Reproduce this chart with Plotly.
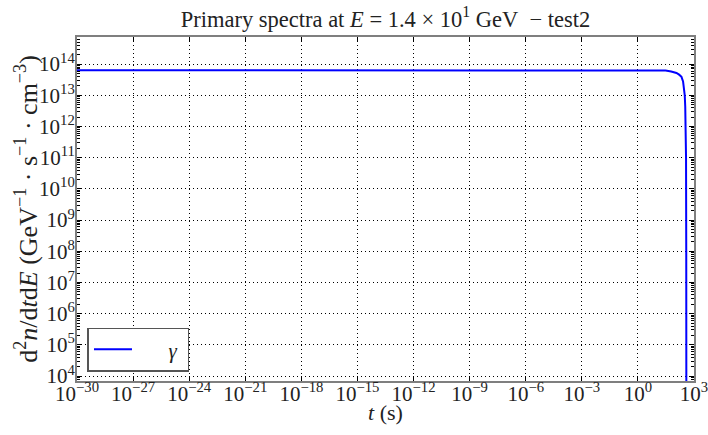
import plotly.graph_objects as go

# Data
t_values = [1e-30, 1e-20, 1e-10, 1e-5, 1e0, 1e1, 3e1, 6e1, 1.15e2, 1.6e2, 2.14e2,
            2.6e2, 2.9e2, 3.2e2, 3.4e2, 3.6e2, 3.75e2, 3.85e2, 3.9e2]
gamma_values = [6.4e13, 6.4e13, 6.4e13, 6.4e13, 6.4e13, 6.35e13, 6.2e13, 5.8e13, 5.2e13,
                4.6e13, 3.9e13, 2.8e13, 1.9e13, 1.0e13, 4.3e12, 1.2e12, 1e11, 1e8, 1e3]

x_tick_exps = list(range(-30, 4, 3))
y_tick_exps = list(range(4, 15))

x_title = "<i>t</i> (s)"
y_title = "d<sup>2</sup><i>n</i>/d<i>t</i>d<i>E</i> (GeV<sup>−1</sup> · s<sup>−1</sup> · cm<sup>−3</sup>)"
chart_title = "Primary spectra at <i>E</i> = 1.4 × 10<sup>1</sup> GeV\u00a0\u00a0− test2"

def pow_label(e):
    s = str(e).replace("-", "\u2212")
    return f"10<sup>{s}</sup>"

y_minor = [m * 10**k for k in range(3, 15) for m in range(2, 10)]

font_family = "Liberation Serif"

fig = go.Figure()
fig.add_trace(go.Scatter(
    x=t_values, y=gamma_values, mode="lines",
    line=dict(color="#0000ff", width=2),
    name="\u00a0\u00a0\u00a0\u00a0\u00a0\u00a0<i>γ</i>\u00a0",
))

axis_common = dict(
    type="log",
    showline=True, linecolor="#7f7f7f", linewidth=2, mirror="ticks",
    ticks="inside", tickcolor="black", ticklen=5, tickwidth=1,
    showgrid=True, gridcolor="black", griddash="1px,3px", gridwidth=1,
    zeroline=False, automargin=False, ticklabeloverflow="allow",
    tickfont=dict(family=font_family, size=21, color="#222"),
)

fig.update_layout(
    width=708, height=435,
    margin=dict(l=77, r=14, t=37, b=54),
    paper_bgcolor="white", plot_bgcolor="white",
    font=dict(family=font_family, color="#222"),
    title=dict(
        text=chart_title,
        xref="paper", x=0.5, xanchor="center", y=0.975, yanchor="top",
        font=dict(family=font_family, size=22.5, color="#222"),
    ),
    xaxis=dict(
        **axis_common,
        range=[-30, 3],
        tickvals=[10**e for e in x_tick_exps],
        ticktext=[pow_label(e) for e in x_tick_exps],
        ticklabelstandoff=-7,
    ),
    yaxis=dict(
        **axis_common,
        range=[3.84, 14.87],
        tickvals=[10**e for e in y_tick_exps],
        ticktext=[pow_label(e) for e in y_tick_exps],
        ticklabelstandoff=-4,
        minor=dict(ticks="inside", ticklen=3, tickcolor="black", tickvals=y_minor, showgrid=False),
    ),
    annotations=[
        dict(text=x_title, xref="paper", yref="paper", x=0.5, y=-0.092,
             xanchor="center", yanchor="middle", showarrow=False,
             font=dict(family=font_family, size=22, color="#222")),
        dict(text=y_title, xref="paper", yref="paper", x=-0.083, y=0.5,
             xanchor="center", yanchor="middle", textangle=-90, showarrow=False,
             font=dict(family=font_family, size=26, color="#222")),
    ],
    showlegend=True,
    legend=dict(
        x=0.017, y=0.027, xanchor="left", yanchor="bottom",
        bgcolor="white", bordercolor="#555", borderwidth=1.5,
        font=dict(family=font_family, size=21, color="#222"),
        itemwidth=38, tracegroupgap=0,
    ),
)

fig.write_html(
    "out.html",
    config={"displayModeBar": False},
    post_script="document.body.style.margin='0';document.body.style.padding='0';",
)
